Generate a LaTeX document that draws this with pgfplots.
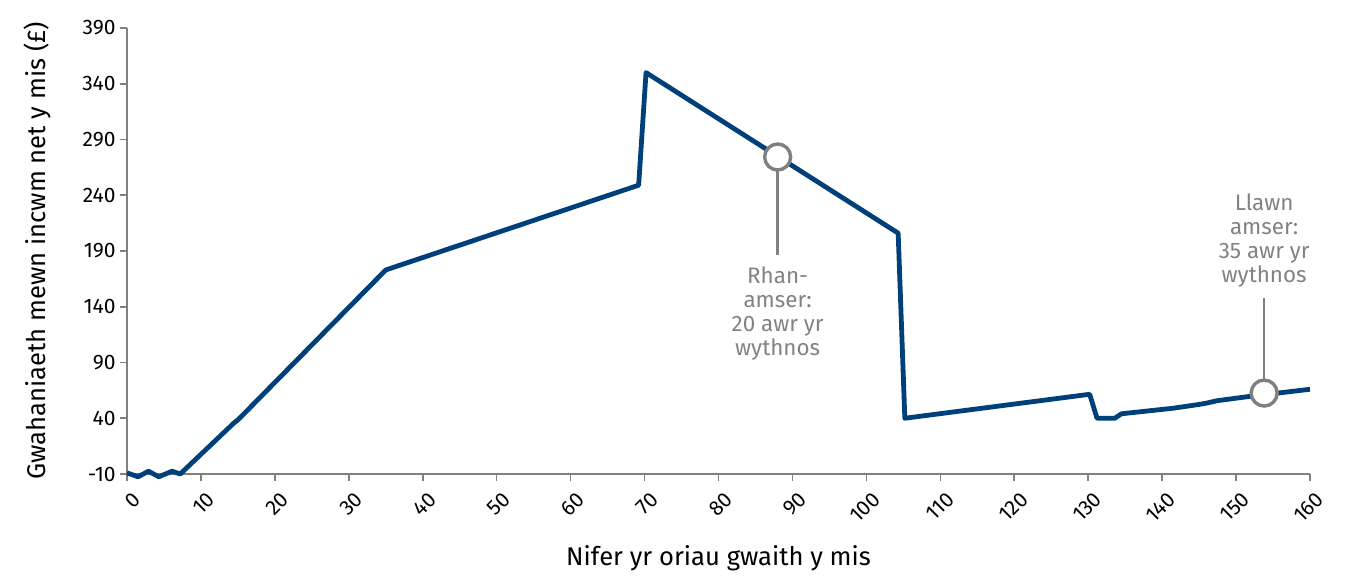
\documentclass[border=0pt]{standalone}
\usepackage{fontspec}
\setmainfont{Fira Sans}
\usepackage{pgfplots}
\pgfplotsset{compat=1.18}
\definecolor{lineblue}{RGB}{0,64,122}
\definecolor{axgrey}{RGB}{128,128,128}
\definecolor{anngrey}{RGB}{130,130,130}
\begin{document}
\begin{tikzpicture}
\useasboundingbox (-63.5pt,-52pt) rectangle (609pt,237pt);
\begin{axis}[
  scale only axis,
  width=591.5pt, height=223pt,
  xmin=0, xmax=160, ymin=-10, ymax=390,
  xtick={0,10,...,160},
  ytick={-10,40,90,140,190,240,290,340,390},
  axis x line*=bottom, axis y line*=left,
  axis line style={axgrey, line width=0.8pt, -},
  tick style={axgrey, line width=0.8pt},
  tick align=outside,
  major tick length=3.5pt,
  clip=false,
  /pgf/number format/assume math mode=true,
  /pgf/number format/1000 sep={},
  tick label style={font=\fontsize{10.5}{12}\selectfont, black},
  x tick label style={rotate=45, anchor=north east, inner sep=1.5pt, yshift=-3.5pt},
  y tick label style={inner sep=2pt},
  xlabel={Nifer yr oriau gwaith y mis},
  ylabel={Gwahaniaeth mewn incwm net y mis (£)},
  label style={font=\fontsize{12.8}{14}\selectfont},
  xlabel style={at={(axis description cs:0.5,0)}, anchor=center, yshift=-42pt},
  ylabel style={at={(axis description cs:0,0.5)}, anchor=center, yshift=45pt},
]
\addplot[lineblue, line width=2.4pt, line join=round] coordinates {
(0,-9) (1.5,-12.5) (2.9,-7.5) (4.3,-12.5) (6.1,-7.5) (7.2,-10)
(14.5,36) (15,38.5) (35,173) (69.2,249) (70.2,350) (104.3,206)
(105.2,40) (130.2,61.5) (131.2,40) (133.6,40) (134.5,44)
(141.5,49) (145.1,52.5) (146.1,53.7) (147.4,55.7) (151.5,59.3)
(160,66)
};
\addplot[axgrey, line width=1.3pt, forget plot] coordinates {(88,274.3) (88,186.4)};
\addplot[axgrey, line width=1.3pt, forget plot] coordinates {(153.8,62.6) (153.8,147.8)};
\addplot[only marks, mark=*, mark size=6.5pt,
  mark options={fill=white, draw=axgrey, line width=1.7pt}] coordinates {
(88,274.3) (153.8,62.6)
};
\node[anchor=north, align=center, text=anngrey, font=\fontsize{11.2}{12}\selectfont, inner sep=0pt]
  at (axis cs:88,176) {Rhan-\\amser:\\20 awr yr\\wythnos};
\node[anchor=south, align=center, text=anngrey, font=\fontsize{11.2}{12}\selectfont, inner sep=0pt]
  at (axis cs:153.8,157) {Llawn\\amser:\\35 awr yr\\wythnos};
\end{axis}
\end{tikzpicture}
\end{document}
